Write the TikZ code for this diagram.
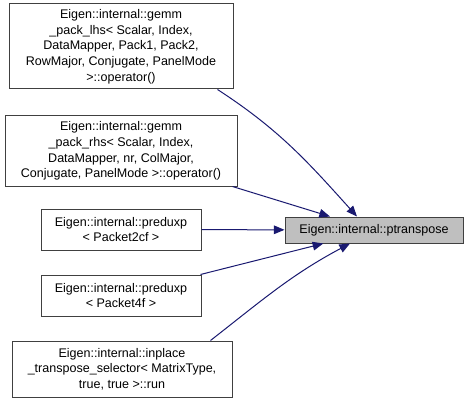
\documentclass[tikz,border=0pt]{standalone}
\usepackage{fontspec}
\setmainfont{Liberation Sans}
\usetikzlibrary{arrows.meta}
\definecolor{edgeblue}{RGB}{25,25,112}
\definecolor{focusgray}{RGB}{191,191,191}
\begin{document}
\begin{tikzpicture}[x=0.75pt, y=-0.75pt,
	every node/.style={draw=black!75, line width=0.75pt, align=center, inner sep=0pt, font=\fontsize{9.4}{11.8}\selectfont},
	caller/.style={fill=white},
	focus/.style={fill=focusgray},
	edge/.style={draw=edgeblue, line width=0.75pt, -{Triangle[length=8pt, width=6.5pt]}}]

	\useasboundingbox (0,0) rectangle (468,403);

	\node[caller, minimum width=224*0.75pt, minimum height=85*0.75pt] (lhs) at (121,46.5) {Eigen::internal::gemm\\\_pack\_lhs< Scalar, Index,\\DataMapper, Pack1, Pack2,\\RowMajor, Conjugate, PanelMode\\>::operator()};
	\node[caller, minimum width=232*0.75pt, minimum height=70*0.75pt] (rhs) at (121,151) {Eigen::internal::gemm\\\_pack\_rhs< Scalar, Index,\\DataMapper, nr, ColMajor,\\Conjugate, PanelMode >::operator()};
	\node[caller, minimum width=160*0.75pt, minimum height=41*0.75pt] (p2cf) at (121,229.5) {Eigen::internal::preduxp\\< Packet2cf >};
	\node[caller, minimum width=160*0.75pt, minimum height=41*0.75pt] (p4f) at (121,295.5) {Eigen::internal::preduxp\\< Packet4f >};
	\node[caller, minimum width=220*0.75pt, minimum height=56*0.75pt] (inplace) at (122,369) {Eigen::internal::inplace\\\_transpose\_selector< MatrixType,\\true, true >::run};
	\node[focus, minimum width=178*0.75pt, minimum height=26*0.75pt] (ptr) at (374,230) {Eigen::internal::ptranspose};

	\draw[edge] ([xshift=-12pt]lhs.south east) to[out=-33, in=132] ([xshift=-12.75pt]ptr.north);
	\draw[edge] ([xshift=-3.75pt]rhs.south east) -- ([xshift=-33pt]ptr.north);
	\draw[edge] (p2cf) -- (ptr);
	\draw[edge] ([xshift=-0.75pt]p4f.north east) -- ([xshift=-38pt]ptr.south);
	\draw[edge] ([xshift=-16.5pt]inplace.north east) to[out=38, in=-152] ([xshift=-18pt]ptr.south);
\end{tikzpicture}
\end{document}
